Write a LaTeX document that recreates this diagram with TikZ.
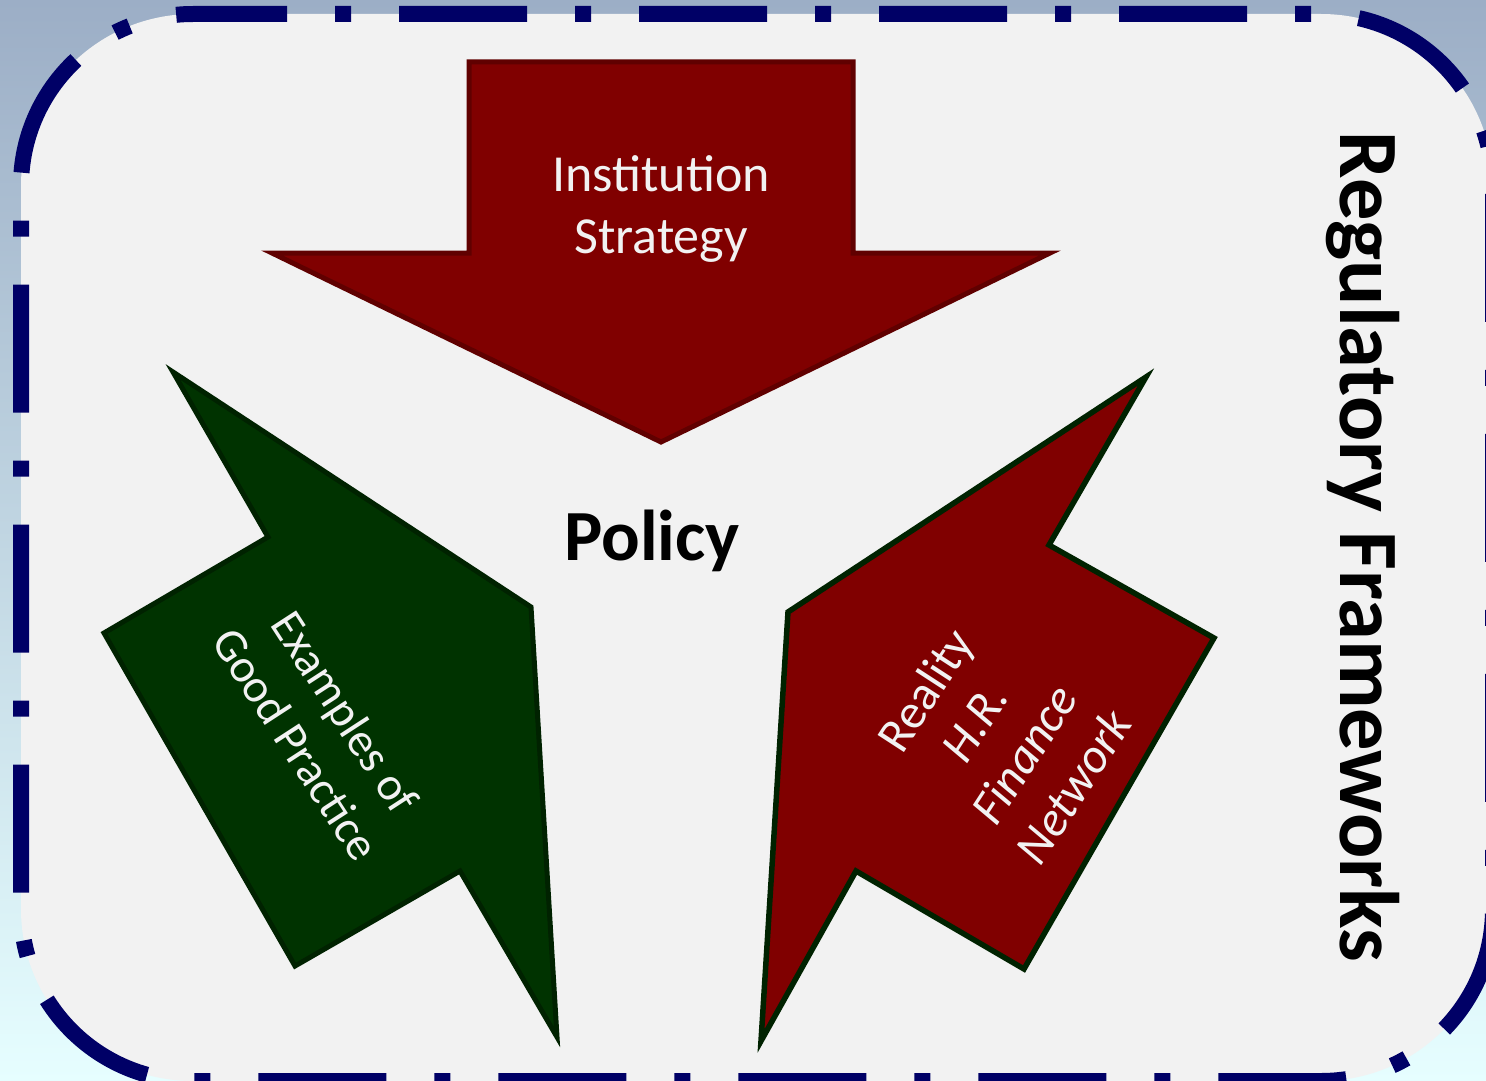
\documentclass[tikz,border=0pt]{standalone}
\usepackage{fontspec}
\setmainfont{Carlito}
\definecolor{bgtop}{HTML}{9CAEC6}
\definecolor{bgmid}{HTML}{C4D8F0}
\definecolor{bgbot}{HTML}{E6FEFF}
\definecolor{panel}{HTML}{F2F2F2}
\definecolor{navy}{HTML}{000066}
\definecolor{darkred}{HTML}{800000}
\definecolor{redline}{HTML}{600000}
\definecolor{dkgreen}{HTML}{003300}
\definecolor{greenline}{HTML}{002200}
\definecolor{txt}{HTML}{F2F2F2}
\tikzset{
  redarrow/.style={fill=darkred, draw=redline, line width=5pt, line join=miter},
  greenarrow/.style={fill=dkgreen, draw=greenline, line width=5pt, line join=miter},
  redgarrow/.style={fill=darkred, draw=greenline, line width=5.5pt, line join=miter},
  frameline/.style={draw=navy, line width=16pt, dash pattern=on 128pt off 48pt on 16pt off 48pt, dash phase=128pt},
  arrowtext/.style={text=txt, align=center, inner sep=0pt}
}
\begin{document}
\begin{tikzpicture}[x=1pt,y=-1pt]
\useasboundingbox (0,0) rectangle (1486,1081);
\shade[top color=bgtop, middle color=bgmid, bottom color=bgbot] (0,0) rectangle (1486,1081);
% panel
\path[fill=panel] (287,14) -- (1321,14) arc[start angle=-90, end angle=0, radius=172]
  -- (1493,909) arc[start angle=0, end angle=90, radius=172]
  -- (193,1081) arc[start angle=90, end angle=180, radius=172]
  -- (21,186) arc[start angle=180, end angle=270, radius=172] -- cycle;
\path[frameline] (287,14) -- (1321,14) arc[start angle=-90, end angle=0, radius=172]
  -- (1493,909) arc[start angle=0, end angle=90, radius=172]
  -- (193,1081) arc[start angle=90, end angle=180, radius=172]
  -- (21,186) arc[start angle=180, end angle=270, radius=172] -- (287,14);
% top arrow
\path[redarrow] (469,62) -- (853,62) -- (853,253) -- (1050,253) -- (661,442) -- (272,253) -- (469,253) -- cycle;
% green arrow
\path[greenarrow] (531,607) -- (173,372) -- (268,537) -- (104,633) -- (295,966) -- (460,871) -- (557,1037) -- cycle;
% right arrow
\path[redgarrow] (788,612) -- (1146,377) -- (1049,545) -- (1214,638) -- (1024,969) -- (856,871) -- (761,1041) -- cycle;
% texts
\node[arrowtext, font=\fontsize{52}{62}\selectfont] (inst) at (661,209) {Institution\\Strategy};
\node[font=\bfseries\fontsize{72}{86}\selectfont, anchor=base, inner sep=0pt] (policy) at (652,560) {Policy};
\node[font=\bfseries\fontsize{84.5}{100}\selectfont, rotate=-90, anchor=base, inner sep=0pt] (reg) at (1340,547) {Regulatory Frameworks};
\node[arrowtext, font=\fontsize{47}{59}\selectfont, rotate=-57] (good) at (321,728) {Examples of\\Good Practice};
\node[arrowtext, font=\fontsize{49}{59}\selectfont, rotate=57] (real) at (999,738) {Reality\\\textit{H.R.}\\\textit{Finance}\\\textit{Network}};
\end{tikzpicture}
\end{document}
